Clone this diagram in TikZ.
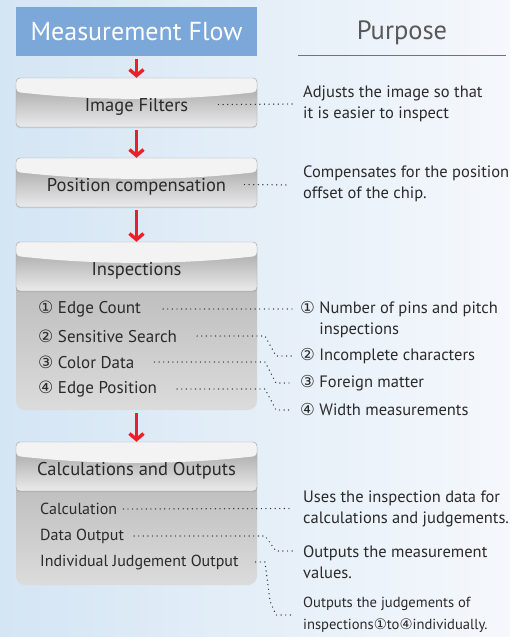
\documentclass[tikz,border=0pt]{standalone}
\usepackage{fontspec}
\setmainfont{PT Sans}
\newfontfamily\circfont{DejaVu Sans}
\usetikzlibrary{arrows.meta, positioning, calc, shadows}
\definecolor{flowblue}{HTML}{7BA7D9}
\definecolor{flowred}{HTML}{E8202A}
\definecolor{bgblue}{HTML}{D4E5F4}
\definecolor{bgpale}{HTML}{F5F8FC}
\definecolor{inkgray}{HTML}{2A2A2A}
\definecolor{hilite}{HTML}{F3F3F3}
\newcommand{\cnum}[1]{{\circfont #1}}

\begin{document}
\begin{tikzpicture}[
  x=1pt, y=-1pt,
  hdr/.style={draw=black!35, rounded corners=4pt, minimum width=241pt, minimum height=49pt,
              top color=black!38, bottom color=black!8, text=inkgray,
              font=\fontsize{18.5}{21}\selectfont, text height=21pt, text depth=3pt,
              drop shadow={opacity=0.25, shadow xshift=0pt, shadow yshift=-1.2pt},
              path picture={\fill[hilite] (path picture bounding box.north west) -- ++(0,14)
                 .. controls +(80,9) and +(-80,9) .. ([yshift=-14pt]path picture bounding box.north east)
                 -- (path picture bounding box.north east) -- cycle;}},
  panel/.style={rounded corners=9pt, minimum width=241pt, top color=black!27, bottom color=black!14},
  title/.style={fill=flowblue, minimum width=241pt, minimum height=49pt, text=white,
                font=\fontsize{26}{28}\selectfont},
  arr/.style={-{Straight Barb[length=6pt, width=14pt]}, line width=3.4pt, flowred, shorten <=3pt},
  item/.style={anchor=west, inner sep=0pt, text=inkgray, font=\fontsize{17}{20}\selectfont},
  note/.style={anchor=west, inner sep=0pt, align=left, text=inkgray, font=\fontsize{16.5}{21}\selectfont},
  dots/.style={inkgray, line width=1.4pt, dash pattern=on 0pt off 4.6pt, line cap=round},
]
  \useasboundingbox (0,0) rectangle (510,637);
  \fill[left color=bgblue, right color=bgpale] (0,0) rectangle (510,637);

  % headings
  \node[title] (title) at (136.5,31.5) {Measurement Flow};
  \node[text=black!65, font=\fontsize{26.5}{28}\selectfont] (purpose) at (402,33) {Purpose};
  \draw[black!55, line width=0.8pt] (298,55) -- (506,55);

  % flow boxes
  \node[hdr] (filters) at (136.5,102.5) {Image Filters};
  \node[hdr] (poscomp) at (136.5,182.5) {Position compensation};
  \node[panel, minimum height=140pt] (inspbody) at (136.5,340) {};
  \node[hdr] (insp) at (136.5,266.5) {Inspections};
  \node[panel, minimum height=115pt] (calcbody) at (136.5,527.5) {};
  \node[hdr] (calc) at (136.5,466.5) {Calculations and Outputs};

  \draw[arr] (title) -- (filters);
  \draw[arr] (filters) -- (poscomp);
  \draw[arr] (poscomp) -- (insp);
  \draw[arr] (inspbody) -- (calc);

  % inspection items
  \node[item] (e1) at (38,309) {\cnum{①} Edge Count};
  \node[item] (e2) at (38,336) {\cnum{②} Sensitive Search};
  \node[item] (e3) at (38,362) {\cnum{③} Color Data};
  \node[item] (e4) at (38,389) {\cnum{④} Edge Position};

  % calculation items
  \node[item, font=\fontsize{16}{20}\selectfont] (c1) at (40,509) {Calculation};
  \node[item, font=\fontsize{16}{20}\selectfont] (c2) at (40,536) {Data Output};
  \node[item, font=\fontsize{16}{20}\selectfont] (c3) at (40,562) {Individual Judgement Output};

  % purposes
  \node[note] (t1) at (303,104) {Adjusts the image so that\\it is easier to inspect};
  \node[note] (t2) at (303,183.5) {Compensates for the position\\offset of the chip.};
  \node[note] (t3) at (300,319.5) {\cnum{①} Number of pins and pitch\\\hphantom{\cnum{①} }inspections};
  \node[note] (t4) at (300,356) {\cnum{②} Incomplete characters};
  \node[note] (t5) at (300,383) {\cnum{③} Foreign matter};
  \node[note] (t6) at (300,410) {\cnum{④} Width measurements};
  \node[note] (t7) at (303,508.5) {Uses the inspection data for\\calculations and judgements.};
  \node[note] (t8) at (303,562) {Outputs the measurement\\values.};
  \node[note, font=\fontsize{14.6}{22}\selectfont] (t9) at (303,615)
    {Outputs the judgements of\\inspections\cnum{①}to\cnum{④}individually.};

  \coordinate (kx) at (265,0);
  \coordinate (ky) at (276,0);

  % dotted leaders
  \draw[dots] ([xshift=82pt,yshift=-2pt]filters.center) -- ([xshift=-9pt]t1.west);
  \draw[dots] ([xshift=108pt,yshift=-2pt]poscomp.center) -- ([xshift=-14pt,yshift=-1.5pt]t2.west);
  \draw[dots] ([xshift=22pt]e1.east) -- ([xshift=-7pt,yshift=10.5pt]t3.west);
  \draw[dots] ([xshift=20pt]e2.east) -- (e2.east -| kx) -- (t4.west -| ky) -- ([xshift=-7pt]t4.west);
  \draw[dots] ([xshift=20pt]e3.east) -- (e3.east -| kx) -- (t5.west -| ky) -- ([xshift=-7pt]t5.west);
  \draw[dots] ([xshift=20pt]e4.east) -- (e4.east -| kx) -- (t6.west -| ky) -- ([xshift=-7pt]t6.west);
  \draw[dots] ([xshift=6pt]c1.east) -- ([xshift=-10pt]t7.west);
  \draw[dots] ([xshift=10pt]c2.east) -- (c2.east -| kx) -- ([yshift=11pt]t8.west -| ky) -- ([xshift=-10pt,yshift=11pt]t8.west);
  \draw[dots] ([xshift=17pt]c3.east) -- (c3.east -| kx) -- ([yshift=14pt]t9.west -| 270,0) -- (t9.west -| ky) -- ([xshift=-10pt]t9.west);
\end{tikzpicture}
\end{document}
